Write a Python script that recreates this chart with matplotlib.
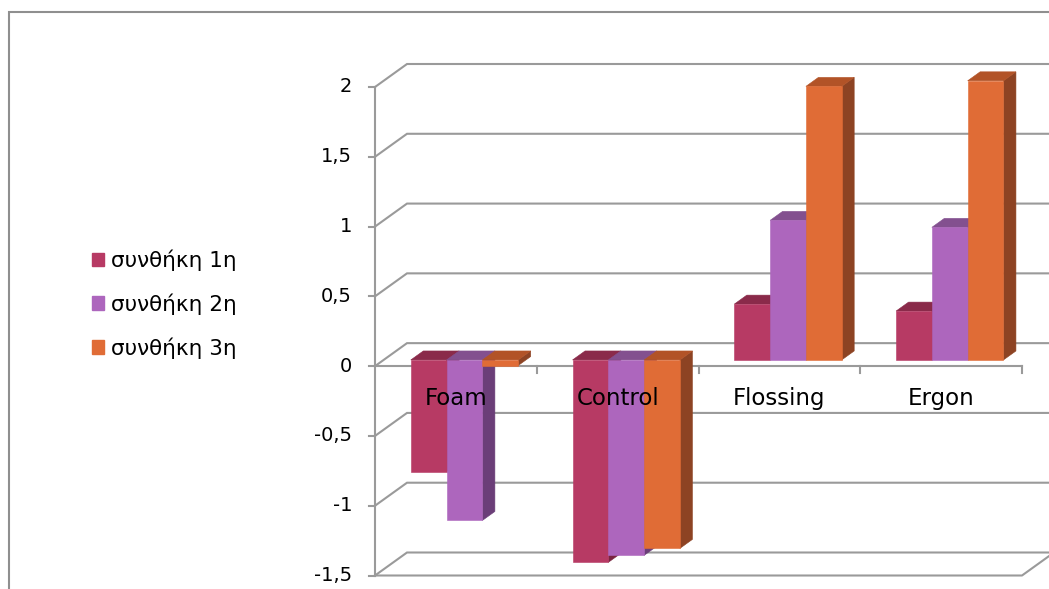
import numpy as np
import matplotlib
matplotlib.use("Agg")
import matplotlib.pyplot as plt
from matplotlib.patches import Polygon, Patch, Rectangle

plt.rcParams['font.family'] = ['DejaVu Sans']

categories = ["Foam", "Control", "Flossing", "Ergon"]
series_names = ["συνθήκη 1η", "συνθήκη 2η", "συνθήκη 3η"]
cond1 = [-0.80, -1.45, 0.40, 0.35]
cond2 = [-1.15, -1.40, 1.00, 0.95]
cond3 = [-0.04, -1.35, 1.96, 2.00]
yticks = [-1.5, -1, -0.5, 0, 0.5, 1, 1.5, 2]
ytick_labels = ["-1,5", "-1", "-0,5", "0", "0,5", "1", "1,5", "2"]

front_colors = ["#B73A64", "#AD66BD", "#E06C36"]
top_colors = ["#8A2A4A", "#83508F", "#B25327"]
side_colors = ["#7A2440", "#6B3E78", "#8D4323"]
grid_color = "#9a9a9a"

W, H = 1049, 589
fig = plt.figure(figsize=(W / 100, H / 100), dpi=100)

# plot area in pixels: x 375..1022, y(0)=366, 139.6 px per unit
left, right = 375, 1022
y_top_px, y_bot_px = 87, 575.5
ax = fig.add_axes([left / W, 1 - y_bot_px / H, (right - left) / W, (y_bot_px - y_top_px) / H])
ax.set_xlim(0, 4)
ax.set_ylim(-1.5, 2)
ax.patch.set_alpha(0)

# depth of the oblique projection, data units
px_x = (right - left) / 4
px_y = (y_bot_px - y_top_px) / 3.5
DX, DY = 32 / px_x, 23 / px_y
f_front, f_back = 0.27, 0.66

# back wall gridlines and side-wall diagonals
for v in yticks:
    ax.plot([0, DX, 4 + DX + 0.3], [v, v + DY, v + DY], color=grid_color,
            lw=1.5, clip_on=False, zorder=1, solid_joinstyle="miter")
# floor
ax.plot([0, 4, 4 + DX], [-1.5, -1.5, -1.5 + DY], color=grid_color, lw=1.5,
        clip_on=False, zorder=1)
# category axis at zero
ax.plot([0, 4], [0, 0], color=grid_color, lw=1.5, clip_on=False, zorder=1)
for i in range(1, 5):
    ax.plot([i, i], [0, -7 / px_y], color=grid_color, lw=1.5, clip_on=False, zorder=1)

# bars
bw = 0.2213
gap = 1 - 3 * bw
values = [cond1, cond2, cond3]
ox, oy = f_front * DX, f_front * DY
bx, by = f_back * DX, f_back * DY
for c in range(len(categories)):
    for s in range(3):
        v = values[s][c]
        x0 = c + gap / 2 + s * bw
        x1 = x0 + bw
        lo, hi = min(0, v), max(0, v)
        front = [(x0 + ox, lo + oy), (x1 + ox, lo + oy), (x1 + ox, hi + oy), (x0 + ox, hi + oy)]
        top = [(x0 + ox, hi + oy), (x1 + ox, hi + oy), (x1 + bx, hi + by), (x0 + bx, hi + by)]
        side = [(x1 + ox, lo + oy), (x1 + bx, lo + by), (x1 + bx, hi + by), (x1 + ox, hi + oy)]
        for pts, col in [(side, side_colors[s]), (top, top_colors[s]), (front, front_colors[s])]:
            ax.add_patch(Polygon(pts, closed=True, facecolor=col, edgecolor=col,
                                 lw=0.4, clip_on=False, zorder=2))

# value axis
ax.plot([0, 0], [-1.5, 2], color=grid_color, lw=1.5, clip_on=False, zorder=3)
for v, lab in zip(yticks, ytick_labels):
    ax.plot([-6 / px_x, 0], [v, v], color=grid_color, lw=1.5, clip_on=False, zorder=3)
    ax.text(-23 / px_x, v, lab, ha="right", va="center", fontsize=14, color="black")

# category labels
for c, name in enumerate(categories):
    ax.text(c + 0.5, -32 / px_y, name, ha="center", va="center", fontsize=16.5,
            color="black", zorder=5)

ax.set_axis_off()

handles = [Patch(facecolor=col, edgecolor=col) for col in front_colors]
fig.legend(handles, series_names, loc="center left", bbox_to_anchor=(81 / W, 1 - 304 / H),
           frameon=False, fontsize=15.5, handlelength=0.58, handleheight=0.58,
           handletextpad=0.3, labelspacing=1.04, borderpad=0)

# chart frame (cropped at right and bottom)
fig.add_artist(Rectangle((9 / W, -0.1), 1.2, 1 - 12 / H + 0.1, transform=fig.transFigure,
                         fill=False, edgecolor="#8f8f8f", lw=1.5))

fig.savefig("out.png", dpi=100)
